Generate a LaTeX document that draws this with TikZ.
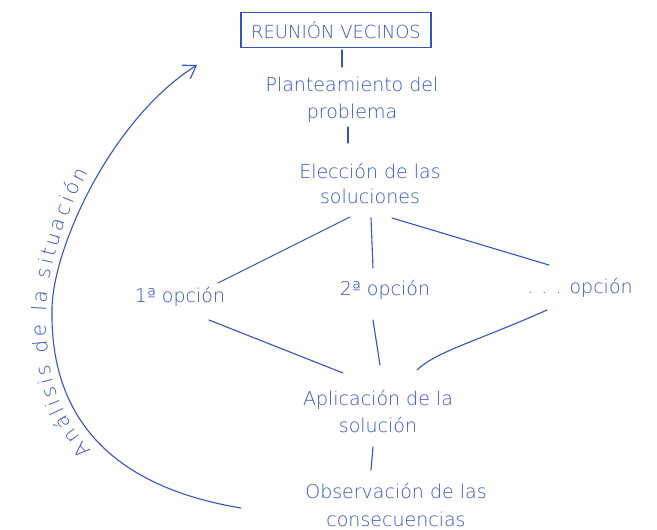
\documentclass[tikz,border=0pt]{standalone}
\usepackage{fontspec}
\setmainfont{DejaVu Sans ExtraLight}
\usetikzlibrary{arrows.meta,decorations.text}
\definecolor{ink}{RGB}{55,85,185}
\begin{document}
\begin{tikzpicture}[x=1pt,y=-1pt,
  inkline/.style={draw=ink, line width=1.1pt, line cap=round},
  lbl/.style={text=ink, font=\fontsize{19}{27}\selectfont, align=center, inner sep=0pt},
]
\useasboundingbox (0,0) rectangle (657,530);
\clip (0,0) rectangle (657,530);
\fill[white] (0,0) rectangle (657,530);

% nodes
\node[lbl, draw=ink, line width=1.1pt, minimum width=190pt, minimum height=35pt,
      font=\fontsize{18}{20}\selectfont] (reu) at (336,30) {REUNIÓN VECINOS};
\node[lbl] (plan) at (352,100) {Planteamiento del\\problema};
\node[lbl, font=\fontsize{19}{25}\selectfont] (elec) at (370,184) {Elección de las\\soluciones};
\node[lbl] (op1) at (180,297) {1ª opción};
\node[lbl] (op2) at (385,290) {2ª opción};
\node[lbl] (op3) at (580,288) {. . . opción};
\node[lbl] (apl) at (378,412) {Aplicación de la\\solución};
\node[lbl, font=\fontsize{19}{28}\selectfont] (obs) at (396,505) {Observación de las\\consecuencias};

% connector end points
\coordinate (c1a) at (342,50);  \coordinate (c1b) at (342,67);
\coordinate (c2a) at (348,127); \coordinate (c2b) at (348,143);
\coordinate (l1a) at (350,217); \coordinate (l1b) at (218,283);
\coordinate (m1a) at (371,218); \coordinate (m1b) at (373,268);
\coordinate (r1a) at (392,218); \coordinate (r1b) at (549,265);
\coordinate (l2a) at (209,320); \coordinate (l2b) at (343,373);
\coordinate (m2a) at (373,320); \coordinate (m2b) at (380,365);
\coordinate (r2a) at (547,310); \coordinate (r2b) at (417,370);
\coordinate (c3a) at (373,447); \coordinate (c3b) at (371,470);
\coordinate (arcB) at (241,508); \coordinate (arcM) at (52,310); \coordinate (arcT) at (197,65);

% connectors
\draw[inkline] (c1a) -- (c1b);
\draw[inkline] (c2a) -- (c2b);
\draw[inkline] (l1a) -- (l1b);
\draw[inkline] (m1a) -- (m1b);
\draw[inkline] (r1a) -- (r1b);
\draw[inkline] (l2a) -- (l2b);
\draw[inkline] (m2a) -- (m2b);
\draw[inkline] (r2a) .. controls (480,340) and (435,352) .. (r2b);
\draw[inkline] (c3a) -- (c3b);

% cycle arc with arrow
\draw[inkline, -{Straight Barb[length=12pt,width=16pt,line width=1.1pt]}]
  (arcB) .. controls (120,488) and (50,425) .. (arcM)
         .. controls (52,250) and (110,120) .. (arcT);

% text along the arc
\path[decorate, decoration={text along path,
  text={|\color{ink}\fontsize{20}{20}\selectfont|Análisis de la situación},
  text align={fit to path}}]
  (92,450) .. controls (62,420) and (46,380) .. (46,313)
           .. controls (48,260) and (70,205) .. (88,172);
\end{tikzpicture}
\end{document}
